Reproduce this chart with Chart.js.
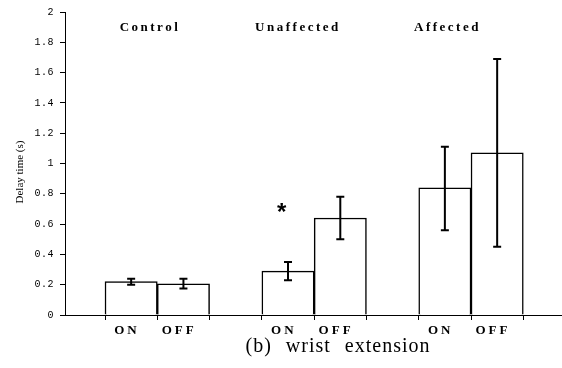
<!DOCTYPE html>
<html>
<head>
<meta charset="utf-8">
<script src="https://cdn.jsdelivr.net/npm/chart.js@4.4.1/dist/chart.umd.min.js"></script>
<style>
  html, body { margin: 0; padding: 0; background: #fff; }
</style>
</head>
<body>
<canvas id="chart" width="562" height="368"></canvas>
<script>
// slots along the x axis; empty ones are the gaps between groups
const slots = ['', 'ON', 'OFF', '', 'ON', 'OFF', '', 'ON', 'OFF', ''];
const groups = ['Control', 'Unaffected', 'Affected'];
const delay = [0.22, 0.205, 0.29, 0.64, 0.84, 1.07];
const errPlus = [0.02, 0.035, 0.06, 0.14, 0.27, 0.62];
const errMinus = [0.02, 0.03, 0.06, 0.14, 0.28, 0.62];
const yTicks = [0, 0.2, 0.4, 0.6, 0.8, 1, 1.2, 1.4, 1.6, 1.8, 2];
const signif = [false, false, true, false, false, false];

const barLabels = slots.filter(s => s);
const barX = [];
slots.forEach((s, i) => { if (s) barX.push(i + 0.5); });
const barData = delay.map((v, i) => ({ x: barX[i], y: v }));

// visible window of the slot axis (the left/right slots are cut off)
const xMin = 0.235, xMax = 9.74;
const groupLabelX = [1.86, 4.69, 7.55];

const decorations = {
  id: 'decorations',
  beforeDraw(chart) {
    chart.ctx.letterSpacing = '0.5px';
  },
  afterDatasetsDraw(chart) {
    const ctx = chart.ctx;
    const ys = chart.scales.y;
    const bars = chart.getDatasetMeta(0).data;
    ctx.save();
    ctx.strokeStyle = '#000';
    ctx.lineWidth = 2;
    bars.forEach((bar, i) => {
      const top = ys.getPixelForValue(delay[i] + errPlus[i]);
      const bot = ys.getPixelForValue(delay[i] - errMinus[i]);
      ctx.beginPath();
      ctx.moveTo(bar.x, top); ctx.lineTo(bar.x, bot);
      ctx.moveTo(bar.x - 4, top); ctx.lineTo(bar.x + 4, top);
      ctx.moveTo(bar.x - 4, bot); ctx.lineTo(bar.x + 4, bot);
      ctx.stroke();
    });
    ctx.restore();
    // the ON / OFF labels (ticks.z = 1) are drawn right after this hook
    ctx.letterSpacing = '3px';
  },
  afterDraw(chart) {
    const ctx = chart.ctx;
    const xs = chart.scales.x, ys = chart.scales.y;
    ctx.save();
    ctx.fillStyle = '#000';
    ctx.textAlign = 'center';
    ctx.textBaseline = 'middle';

    ctx.letterSpacing = '2.5px';
    ctx.font = 'bold 13px "Liberation Serif"';
    groups.forEach((g, i) => {
      ctx.fillText(g, xs.getPixelForValue(groupLabelX[i]), ys.getPixelForValue(1.9));
    });

    ctx.letterSpacing = '0px';
    ctx.font = 'bold 24px "Liberation Sans"';
    signif.forEach((s, i) => {
      if (!s) return;
      const top = ys.getPixelForValue(delay[i] + errPlus[i]);
      ctx.fillText('*', xs.getPixelForValue(barX[i] - 0.12), top - 49);
    });

    ctx.font = '11px "Liberation Serif"';
    ctx.save();
    ctx.translate(20, 172);
    ctx.rotate(-Math.PI / 2);
    ctx.fillText('Delay time (s)', 0, 0);
    ctx.restore();

    ctx.letterSpacing = '1px';
    ctx.wordSpacing = '8px';
    ctx.font = '20px "Liberation Serif"';
    ctx.fillText('(b) wrist extension', 338, 347);
    ctx.restore();
    ctx.letterSpacing = '0px';
    ctx.wordSpacing = '0px';
  }
};

new Chart(document.getElementById('chart'), {
  type: 'bar',
  data: {
    datasets: [{
      data: barData,
      xAxisID: 'x',
      yAxisID: 'y',
      backgroundColor: '#fff',
      borderColor: '#000',
      borderWidth: 1.5,
      barPercentage: 1,
      categoryPercentage: 1
    }]
  },
  options: {
    responsive: false,
    animation: false,
    layout: { padding: { top: 8, left: 0, right: 0, bottom: 0 } },
    plugins: { legend: { display: false }, tooltip: { enabled: false }, title: { display: false } },
    scales: {
      x: {
        type: 'linear',
        position: 'bottom',
        weight: 0,
        offset: false,
        min: xMin,
        max: xMax,
        afterBuildTicks: s => { s.ticks = slots.slice(1).map((_, i) => ({ value: i + 1 })); },
        ticks: { display: false },
        grid: { offset: false, drawOnChartArea: false, drawTicks: true, tickLength: 5, color: '#000', lineWidth: 1 },
        border: { display: true, color: '#000', width: 1 },
        afterFit: s => { s.height = 5; }
      },
      xl: {
        type: 'linear',
        position: 'bottom',
        weight: 1,
        offset: false,
        min: xMin,
        max: xMax,
        afterBuildTicks: s => { s.ticks = barX.map(v => ({ value: v - 0.08 })); },
        ticks: {
          z: 1,
          autoSkip: false,
          maxRotation: 0,
          padding: 3,
          color: '#000',
          font: { family: '"Liberation Serif"', size: 13, weight: 'bold' },
          callback: (v, i) => barLabels[i]
        },
        grid: { display: false, drawTicks: false, offset: false },
        border: { display: false },
        afterFit: s => { s.height = 48; }
      },
      y: {
        min: 0,
        max: 2,
        afterBuildTicks: s => { s.ticks = yTicks.map(v => ({ value: v })); },
        ticks: {
          color: '#000',
          padding: 6,
          font: { family: '"Liberation Mono"', size: 10 },
          callback: v => String(v)
        },
        grid: { drawOnChartArea: false, tickLength: 5, color: '#000' },
        border: { color: '#000', width: 1 },
        afterFit: s => { s.width = 65; }
      }
    }
  },
  plugins: [decorations]
});
</script>
</body>
</html>
